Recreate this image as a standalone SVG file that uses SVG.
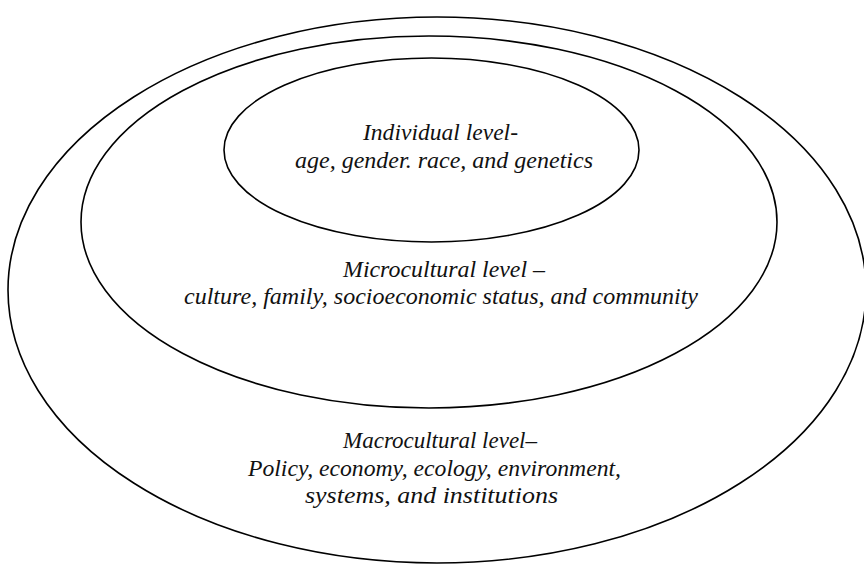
<svg xmlns="http://www.w3.org/2000/svg" width="864" height="565" viewBox="0 0 864 565">
<style>
.ring{fill:none;stroke:#000;stroke-width:1.6}
.lbl{font-family:"Liberation Serif","Times New Roman",serif;font-style:italic;font-size:24px;fill:#111;lengthAdjust:spacingAndGlyphs}
</style>
<rect width="864" height="565" fill="#fff"/>
<g id="macro">
<ellipse class="ring" cx="437" cy="290" rx="429" ry="273"/>
<text class="lbl" x="343" y="448" textLength="194" lengthAdjust="spacingAndGlyphs">Macrocultural level–</text>
<text class="lbl" x="248" y="476" textLength="373" lengthAdjust="spacingAndGlyphs">Policy, economy, ecology, environment,</text>
<text class="lbl" x="305" y="503" textLength="253" lengthAdjust="spacingAndGlyphs">systems, and institutions</text>
</g>
<g id="micro">
<ellipse class="ring" cx="429" cy="222" rx="348" ry="186"/>
<text class="lbl" x="343" y="277" textLength="202" lengthAdjust="spacingAndGlyphs">Microcultural level –</text>
<text class="lbl" x="184" y="304" textLength="514" lengthAdjust="spacingAndGlyphs">culture, family, socioeconomic status, and community</text>
</g>
<g id="individual">
<ellipse class="ring" cx="431.5" cy="150" rx="207.5" ry="92"/>
<text class="lbl" x="363" y="140" textLength="155" lengthAdjust="spacingAndGlyphs">Individual level-</text>
<text class="lbl" x="295" y="168" textLength="298" lengthAdjust="spacingAndGlyphs">age, gender. race, and genetics</text>
</g>
<g id="connectors"/>
</svg>
